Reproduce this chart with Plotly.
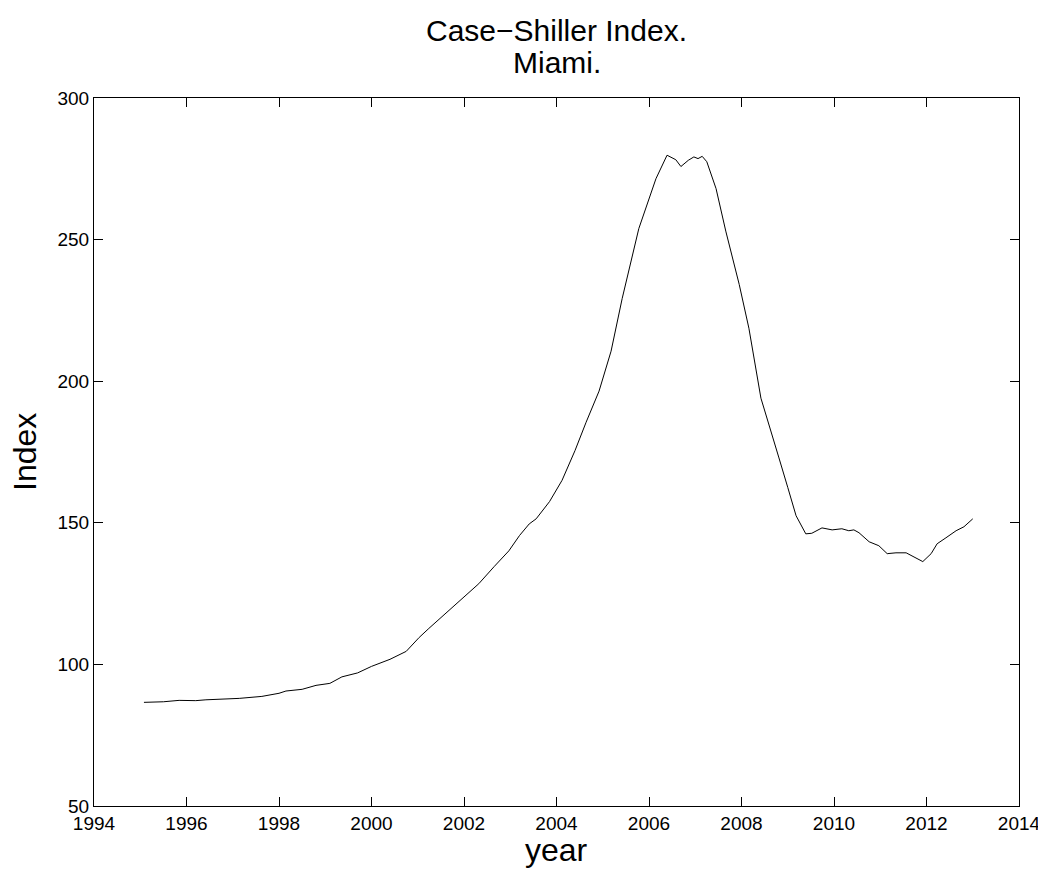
import plotly.graph_objects as go

years = [1995.08, 1995.5, 1995.84, 1996.2, 1996.42, 1996.8, 1997.14, 1997.63, 1998.0, 1998.15,
         1998.5, 1998.8, 1999.1, 1999.36, 1999.7, 2000.0, 2000.4, 2000.75, 2001.03, 2001.24,
         2001.6, 2001.96, 2002.32, 2002.65, 2002.97, 2003.2, 2003.41, 2003.56, 2003.85, 2004.12,
         2004.4, 2004.64, 2004.92, 2005.18, 2005.42, 2005.78, 2006.15, 2006.39, 2006.58, 2006.69,
         2006.85, 2006.97, 2007.06, 2007.15, 2007.25, 2007.45, 2007.66, 2007.95, 2008.16, 2008.42,
         2008.64, 2008.81, 2009.0, 2009.18, 2009.39, 2009.52, 2009.74, 2009.96, 2010.17, 2010.32,
         2010.43, 2010.54, 2010.76, 2010.97, 2011.15, 2011.34, 2011.56, 2011.73, 2011.92, 2012.10,
         2012.23, 2012.42, 2012.64, 2012.81, 2013.0]
index_values = [86.6, 86.8, 87.3, 87.2, 87.5, 87.8, 88.0, 88.7, 89.8, 90.6,
                91.2, 92.6, 93.3, 95.6, 97.0, 99.3, 101.8, 104.6, 109.5, 112.7,
                118.0, 123.2, 128.5, 134.5, 140.1, 145.5, 149.6, 151.4, 157.5, 165.0,
                175.5, 185.5, 196.5, 210.6, 229.2, 253.9, 271.5, 279.8, 278.2, 275.8,
                278.0, 279.2, 278.6, 279.4, 277.5, 268.0, 253.0, 234.2, 218.7, 194.0,
                182.5, 172.9, 162.5, 152.5, 146.1, 146.3, 148.2, 147.5, 147.9, 147.2,
                147.5, 146.5, 143.3, 141.9, 139.1, 139.4, 139.4, 138.0, 136.3, 139.1,
                142.6, 144.7, 147.2, 148.6, 151.4]

x_ticks = list(range(1994, 2015, 2))
y_ticks = [50, 100, 150, 200, 250, 300]

title_lines = ["Case\u2212Shiller Index.", "Miami."]
x_label = "year"
y_label = "Index"

FONT = "Liberation Sans, Arial, sans-serif"

fig = go.Figure()
fig.add_trace(go.Scatter(x=years, y=index_values, mode="lines",
                         line=dict(color="black", width=1), showlegend=False))

axis_common = dict(showline=True, linecolor="black", linewidth=1, mirror="allticks",
                   ticks="inside", ticklen=9, tickcolor="black", tickwidth=1,
                   showgrid=False, zeroline=False,
                   tickfont=dict(family=FONT, size=19, color="black"))

fig.update_xaxes(range=[1994, 2014], tickvals=x_ticks, ticktext=[str(t) for t in x_ticks],
                 **axis_common)
fig.update_yaxes(range=[50, 300], tickvals=y_ticks, ticktext=[str(t) for t in y_ticks],
                 **axis_common)

fig.add_annotation(text=title_lines[0], xref="paper", yref="paper", x=0.5, y=1.096,
                   xanchor="center", yanchor="middle", showarrow=False,
                   font=dict(family=FONT, size=30, color="black"))
fig.add_annotation(text=title_lines[1], xref="paper", yref="paper", x=0.5, y=1.050,
                   xanchor="center", yanchor="middle", showarrow=False,
                   font=dict(family=FONT, size=30, color="black"))
fig.add_annotation(text=x_label, xref="paper", yref="paper", x=0.5, y=-0.062,
                   xanchor="center", yanchor="middle", showarrow=False,
                   font=dict(family=FONT, size=32, color="black"))
fig.add_annotation(text=y_label, xref="paper", yref="paper", x=-0.0746, y=0.5,
                   xanchor="center", yanchor="middle", showarrow=False, textangle=-90,
                   font=dict(family=FONT, size=32, color="black"))

fig.update_layout(
    width=1038, height=867,
    margin=dict(l=86, r=27, t=90, b=69, autoexpand=False),
    paper_bgcolor="white", plot_bgcolor="white",
)

fig.write_html("out.html")
